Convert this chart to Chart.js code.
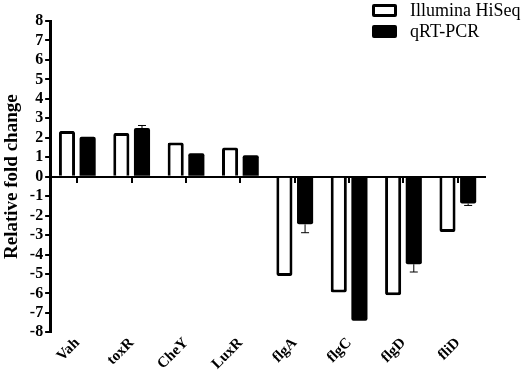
<!DOCTYPE html>
<html>
<head>
<meta charset="utf-8">
<script src="https://cdn.jsdelivr.net/npm/chart.js@4.4.1/dist/chart.umd.min.js"></script>
<style>
  html, body { margin: 0; padding: 0; background: #fff; }
  #wrap { position: relative; width: 523px; height: 372px; }
  .legend { position: absolute; left: 372px; top: 4px; font-family: "Liberation Serif", serif; font-size: 18px; color: #000; }
  .legend .item { position: relative; height: 21px; line-height: 14px; }
  .legend .box { position: absolute; left: 0; top: 0; width: 25px; height: 13px; box-sizing: border-box; border: 3px solid #000; border-radius: 2px; }
  .legend .label { position: absolute; left: 38px; top: -1px; white-space: nowrap; }
</style>
</head>
<body>
<div id="wrap">
  <canvas id="my_chart" width="523" height="372"></canvas>
  <div class="legend" id="legend"></div>
</div>
<script>
const genes = ['Vah', 'toxR', 'CheY', 'LuxR', 'flgA', 'flgC', 'flgD', 'fliD'];
const hiseq_values = [2.35, 2.25, 1.75, 1.5, -5.1, -5.95, -6.1, -2.85];
const qpcr_values = [2.05, 2.5, 1.2, 1.1, -2.45, -7.4, -4.5, -1.38];
const qpcr_errors = [0, 0.13, 0, 0, 0.43, 0, 0.4, 0.1];
const y_ticks = [-8, -7, -6, -5, -4, -3, -2, -1, 0, 1, 2, 3, 4, 5, 6, 7, 8];

const serif = '"Liberation Serif", "Times New Roman", serif';

// error bars for the qRT-PCR series, drawn away from zero
const error_bars = {
    id: 'error_bars',
    afterDatasetsDraw(chart) {
        const ctx = chart.ctx;
        const meta = chart.getDatasetMeta(1);
        const y = chart.scales.y;
        ctx.save();
        ctx.strokeStyle = '#000';
        ctx.lineWidth = 1;
        meta.data.forEach((bar, i) => {
            const err = qpcr_errors[i];
            if (!err) return;
            const v = qpcr_values[i];
            const end = v >= 0 ? v + err : v - err;
            const y0 = y.getPixelForValue(v);
            const y1 = y.getPixelForValue(end);
            ctx.beginPath();
            ctx.moveTo(bar.x, y0);
            ctx.lineTo(bar.x, y1);
            ctx.moveTo(bar.x - 4, y1);
            ctx.lineTo(bar.x + 4, y1);
            ctx.stroke();
        });
        ctx.restore();
    }
};

const ctx = document.getElementById('my_chart').getContext('2d');
const chart = new Chart(ctx, {
    type: 'bar',
    data: {
        labels: genes,
        datasets: [
            {
                label: 'Illumina HiSeq',
                data: hiseq_values,
                backgroundColor: '#fff',
                borderColor: '#000',
                borderWidth: 3,
                borderRadius: 2
            },
            {
                label: 'qRT-PCR',
                data: qpcr_values,
                backgroundColor: '#000',
                borderColor: '#000',
                borderWidth: 0,
                borderRadius: 2
            }
        ]
    },
    options: {
        responsive: false,
        animation: false,
        events: [],
        layout: { padding: { left: 1, right: 38, top: 21, bottom: -3 } },
        datasets: { bar: { categoryPercentage: 0.76, barPercentage: 0.78 } },
        plugins: {
            legend: { display: false },
            tooltip: { enabled: false }
        },
        scales: {
            x: {
                position: 'bottom',
                grid: { display: false, drawTicks: false },
                border: { display: false },
                ticks: {
                    color: '#000',
                    font: { family: serif, size: 15, weight: 'bold' },
                    minRotation: 45,
                    maxRotation: 45,
                    padding: 2
                }
            },
            x0: {
                type: 'category',
                position: { y: 0 },
                offset: true,
                grid: { offset: false, drawOnChartArea: false, drawTicks: true, tickLength: 5, color: '#000', lineWidth: 2 },
                border: { display: true, color: '#000', width: 2 },
                ticks: { display: false }
            },
            y: {
                min: -8,
                max: 8,
                afterBuildTicks: axis => { axis.ticks = y_ticks.map(v => ({ value: v })); },
                grid: { drawOnChartArea: false, drawTicks: true, tickLength: 5, color: '#000', lineWidth: 2 },
                border: { display: true, color: '#000', width: 3 },
                ticks: {
                    color: '#000',
                    padding: 2,
                    autoSkip: false,
                    font: { family: serif, size: 16, weight: 'bold' }
                },
                title: {
                    display: true,
                    text: 'Relative fold change',
                    color: '#000',
                    padding: { top: 0, bottom: 4 },
                    font: { family: serif, size: 19, weight: 'bold' }
                }
            }
        }
    },
    plugins: [error_bars]
});

const legend_div = document.getElementById('legend');
chart.data.datasets.forEach(ds => {
    const item = document.createElement('div');
    item.className = 'item';
    const box = document.createElement('span');
    box.className = 'box';
    box.style.background = ds.backgroundColor;
    const label = document.createElement('span');
    label.className = 'label';
    label.textContent = ds.label;
    item.appendChild(box);
    item.appendChild(label);
    legend_div.appendChild(item);
});
</script>
</body>
</html>
